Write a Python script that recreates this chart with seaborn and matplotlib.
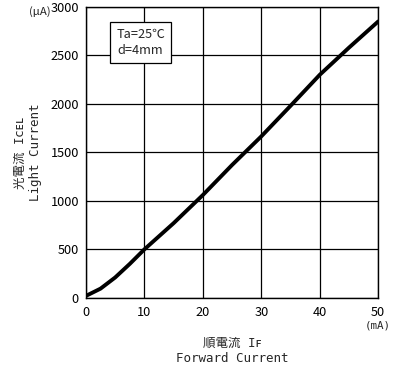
import numpy as np
import pandas as pd
import matplotlib
matplotlib.use("Agg")
import matplotlib.pyplot as plt
import seaborn as sns

# forward current (mA) vs light current (uA)
forward_ma = [0, 2.5, 5, 7.5, 10, 15, 20, 25, 30, 35, 40, 45, 50]
light_ua = [20, 95, 210, 350, 500, 770, 1060, 1370, 1665, 1980, 2300, 2580, 2850]

x_ticks = [0, 10, 20, 30, 40, 50]
y_ticks = [0, 500, 1000, 1500, 2000, 2500, 3000]

sns.set_style("white")
plt.rcParams['font.family'] = ['Noto Sans CJK JP', 'DejaVu Sans']
mono = ['DejaVu Sans Mono', 'Noto Sans CJK JP', 'DejaVu Sans']

df = pd.DataFrame({'IF': forward_ma, 'IC': light_ua})

fig = plt.figure(figsize=(3.96, 3.65), dpi=100)
ax = fig.add_axes([0.217, 0.184, 0.738, 0.797])

sns.lineplot(data=df, x='IF', y='IC', color='black', lw=2.8, ax=ax)

ax.set_xlim(0, 50)
ax.set_ylim(0, 3000)
ax.set_xticks(x_ticks)
ax.set_yticks(y_ticks)
ax.tick_params(length=0, labelsize=9.2, colors='black')
ax.tick_params(axis='x', pad=6)
ax.tick_params(axis='y', pad=5)
ax.grid(True, color='black', lw=0.9)
for s in ax.spines.values():
    s.set_color('black')
    s.set_linewidth(1.0)

ax.set_xlabel("順電流 Iꜰ\nForward Current", family=mono, fontsize=9, labelpad=13,
              linespacing=1.2)
ax.set_ylabel("光電流 Iᴄᴇʟ\nLight Current", family=mono, fontsize=9, labelpad=6,
              linespacing=1.2)

ax.text(-0.122, 0.983, "(μA)", transform=ax.transAxes, fontsize=8.2, ha='right', va='center')
ax.text(1.0, -0.095, "(mA)", transform=ax.transAxes, fontsize=7.8, ha='center', va='center',
        family=mono)

ax.text(0.187, 0.877, "Ta=25℃\nd=4mm", transform=ax.transAxes, fontsize=9.2,
        ha='center', va='center', linespacing=1.3,
        bbox=dict(boxstyle='square,pad=0.45', fc='white', ec='black', lw=0.9))

fig.savefig("out.png", dpi=100)
